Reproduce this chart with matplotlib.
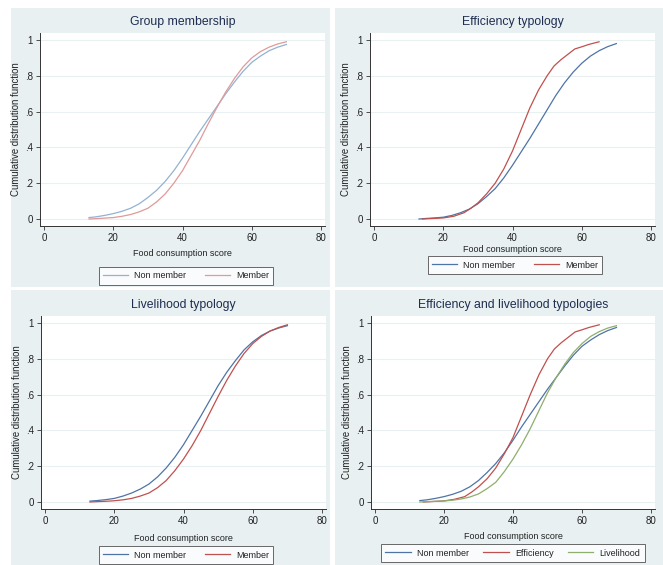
import matplotlib.pyplot as plt
from matplotlib.patches import Rectangle

plt.rcParams['font.family'] = ['Liberation Sans', 'DejaVu Sans']

# --- data ---
score = [13, 15, 17.5, 20, 22.5, 25, 27.5, 30, 32.5, 35, 37.5, 40,
         42.5, 45, 47.5, 50, 52.5, 55, 57.5, 60, 62.5, 65, 67.5, 70]

grp_non = [0.008, 0.012, 0.02, 0.03, 0.043, 0.06, 0.085, 0.12, 0.16, 0.21, 0.27, 0.34,
           0.415, 0.49, 0.56, 0.63, 0.70, 0.765, 0.825, 0.875, 0.91, 0.94, 0.96, 0.975]
grp_mem = [0.0, 0.002, 0.005, 0.008, 0.015, 0.025, 0.04, 0.06, 0.095, 0.14, 0.20, 0.27,
           0.355, 0.44, 0.535, 0.625, 0.71, 0.785, 0.85, 0.90, 0.935, 0.96, 0.978, 0.99]

eff_non = [0.0, 0.003, 0.006, 0.01, 0.02, 0.035, 0.055, 0.085, 0.125, 0.17, 0.23, 0.30,
           0.375, 0.45, 0.53, 0.61, 0.69, 0.76, 0.82, 0.87, 0.91, 0.94, 0.963, 0.98]
eff_score = [14, 17, 20, 23, 26, 28, 30, 32.5, 35, 37.5, 40, 42.5, 45, 47.5, 50,
             52, 54, 56, 58, 60, 62, 65]
eff_mem = [0.0, 0.003, 0.006, 0.015, 0.035, 0.06, 0.09, 0.14, 0.20, 0.28, 0.38, 0.50, 0.62,
           0.72, 0.80, 0.855, 0.89, 0.92, 0.95, 0.962, 0.975, 0.99]

liv_non = [0.005, 0.008, 0.013, 0.02, 0.033, 0.05, 0.072, 0.10, 0.14, 0.19, 0.25, 0.32,
           0.40, 0.48, 0.565, 0.65, 0.725, 0.79, 0.85, 0.895, 0.93, 0.955, 0.972, 0.985]
liv_mem = [0.0, 0.002, 0.004, 0.007, 0.012, 0.02, 0.033, 0.05, 0.08, 0.12, 0.175, 0.24,
           0.315, 0.40, 0.495, 0.59, 0.68, 0.76, 0.83, 0.885, 0.925, 0.955, 0.975, 0.99]

all_non = [0.008, 0.012, 0.02, 0.03, 0.043, 0.06, 0.085, 0.12, 0.165, 0.215, 0.275, 0.345,
           0.42, 0.49, 0.56, 0.63, 0.695, 0.76, 0.82, 0.87, 0.905, 0.935, 0.958, 0.975]
all_eff = [0.0, 0.003, 0.006, 0.015, 0.03, 0.055, 0.085, 0.13, 0.19, 0.27, 0.36, 0.48, 0.60,
           0.71, 0.80, 0.855, 0.89, 0.92, 0.95, 0.962, 0.975, 0.99]
all_liv = [0.0, 0.002, 0.004, 0.006, 0.01, 0.017, 0.028, 0.045, 0.075, 0.11, 0.17, 0.24,
           0.32, 0.41, 0.51, 0.61, 0.695, 0.77, 0.835, 0.885, 0.925, 0.952, 0.972, 0.985]

yticks = [0, 0.2, 0.4, 0.6, 0.8, 1]
ytick_labels = ['0', '.2', '.4', '.6', '.8', '1']
xticks = [0, 20, 40, 60, 80]

W, H = 663, 565
bg = '#e8f0f2'
blue = '#4e74a6'
red = '#c0504d'
green = '#8fae6b'
light_blue = '#93b2d2'
light_red = '#df9a9a'
title_col = '#1e2d50'

fig = plt.figure(figsize=(W / 100, H / 100), dpi=100)
fig.patch.set_facecolor('white')

# panel backgrounds (pixels: x0, y0, x1, y1)
panels = [(11, 8, 330, 287), (335, 8, 663, 287), (11, 290, 330, 565), (335, 290, 663, 565)]
for x0, y0, x1, y1 in panels:
    fig.patches.append(Rectangle((x0 / W, 1 - y1 / H), (x1 - x0) / W, (y1 - y0) / H,
                                 transform=fig.transFigure, facecolor=bg, edgecolor='none', zorder=-5))


def make_axes(px0, px80, py0, py1, xpad=3):
    # pixel positions of x=0, x=80, y=0, y=1
    sx = (px80 - px0) / 80
    sy = (py0 - py1)
    xmin, xmax = -1.2, 81.2
    ymin, ymax = -0.04, 1.04
    left = px0 + xmin * sx
    right = px0 + xmax * sx
    top = py0 - ymax * sy
    bottom = py0 - ymin * sy
    ax = fig.add_axes([left / W, 1 - bottom / H, (right - left) / W, (bottom - top) / H])
    ax.set_xlim(xmin, xmax)
    ax.set_ylim(ymin, ymax)
    ax.set_facecolor('white')
    for s in ['top', 'right']:
        ax.spines[s].set_visible(False)
    for s in ['left', 'bottom']:
        ax.spines[s].set_color('#333333')
        ax.spines[s].set_linewidth(0.7)
    ax.set_xticks(xticks)
    ax.set_yticks(yticks)
    ax.set_yticklabels(ytick_labels)
    ax.tick_params(labelsize=7, length=3, width=0.6, color='#333333', labelcolor='#222222', pad=2)
    ax.grid(axis='y', color=bg, linewidth=0.8)
    ax.set_axisbelow(True)
    ax.set_xlabel('Food consumption score', fontsize=6.5, color='#222222', labelpad=xpad)
    ax.set_ylabel('Cumulative distribution function', fontsize=6.9, color='#222222', labelpad=3)
    return ax


def add_legend(ax, handles, labels, cx, cy, ncol, colsp):
    leg = fig.legend(handles, labels, loc='center', bbox_to_anchor=(cx / W, 1 - cy / H),
                     ncol=ncol, fontsize=6.5, frameon=True, fancybox=False,
                     edgecolor='#444444', handlelength=2.8, columnspacing=colsp,
                     handletextpad=0.7, borderpad=0.45)
    leg.get_frame().set_linewidth(0.7)
    for t in leg.get_texts():
        t.set_color('#222222')


# Group membership
ax1 = make_axes(44, 321, 219, 40, xpad=4)
l1, = ax1.plot(score, grp_non, color=light_blue, lw=0.9)
l2, = ax1.plot(score, grp_mem, color=light_red, lw=0.9)
ax1.set_title('Group membership', fontsize=8.8, color=title_col, pad=6)
add_legend(ax1, [l1, l2], ['Non member', 'Member'], 186, 276, 2, 2.0)

# Efficiency typology
ax2 = make_axes(374, 651, 219, 40, xpad=1.5)
l1, = ax2.plot(score, eff_non, color=blue, lw=0.9)
l2, = ax2.plot(eff_score, eff_mem, color=red, lw=0.9)
ax2.set_title('Efficiency typology', fontsize=8.8, color=title_col, pad=6)
add_legend(ax2, [l1, l2], ['Non member', 'Member'], 515, 265, 2, 2.0)

# Livelihood typology
ax3 = make_axes(45, 322, 502, 323, xpad=6)
l1, = ax3.plot(score, liv_non, color=blue, lw=0.9)
l2, = ax3.plot(score, liv_mem, color=red, lw=0.9)
ax3.set_title('Livelihood typology', fontsize=8.8, color=title_col, pad=6)
add_legend(ax3, [l1, l2], ['Non member', 'Member'], 186, 555, 2, 2.0)

# Efficiency and livelihood typologies
ax4 = make_axes(375, 651, 502, 323, xpad=4)
l1, = ax4.plot(score, all_non, color=blue, lw=0.9)
l2, = ax4.plot(eff_score, all_eff, color=red, lw=0.9)
l3, = ax4.plot(score, all_liv, color=green, lw=0.9)
ax4.set_title('Efficiency and livelihood typologies', fontsize=8.8, color=title_col, pad=6)
add_legend(ax4, [l1, l2, l3], ['Non member', 'Efficiency', 'Livelihood'], 513, 553, 3, 1.6)

fig.savefig('out.png', dpi=100, facecolor='white')
